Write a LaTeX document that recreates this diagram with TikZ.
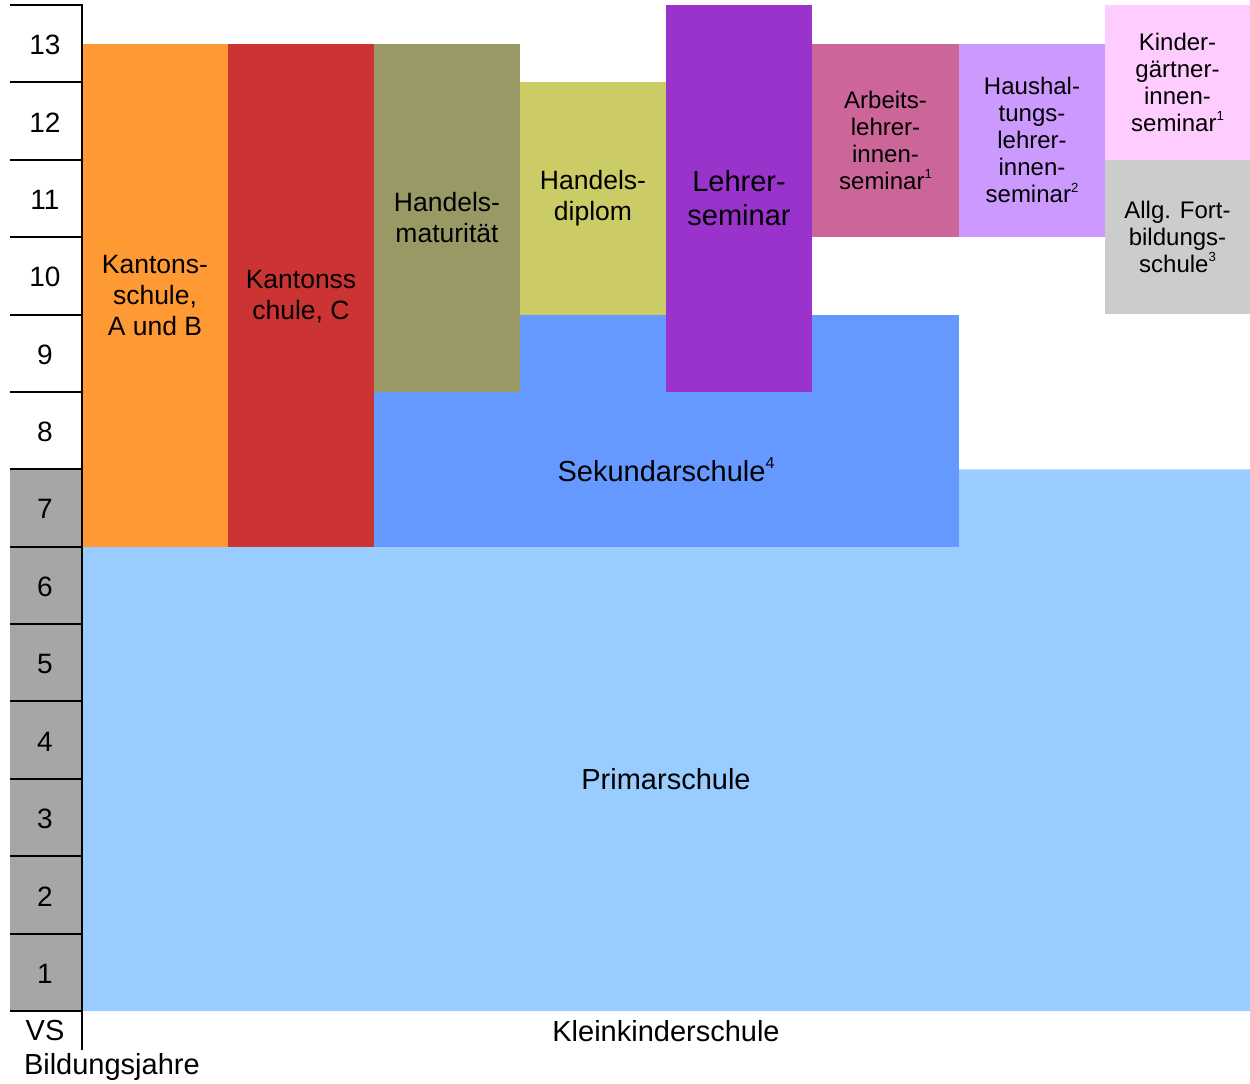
\documentclass[tikz,border=0pt]{standalone}
\usepackage{fontspec}
\setmainfont{Liberation Sans}
\definecolor{cOrange}{HTML}{FF9933}
\definecolor{cRed}{HTML}{CC3333}
\definecolor{cOlive}{HTML}{999966}
\definecolor{cYellow}{HTML}{CCCC66}
\definecolor{cPurple}{HTML}{9933CC}
\definecolor{cPink}{HTML}{CC6699}
\definecolor{cLavender}{HTML}{CC99FF}
\definecolor{cRose}{HTML}{FFCCFF}
\definecolor{cGrey}{HTML}{CCCCCC}
\definecolor{cBlue}{HTML}{6699FF}
\definecolor{cSky}{HTML}{99CCFF}
\definecolor{cAxis}{HTML}{A6A6A6}
\newcommand{\fsL}{\fontsize{29}{34}\selectfont}
\newcommand{\fsM}{\fontsize{26.5}{31}\selectfont}
\newcommand{\fsS}{\fontsize{24}{27}\selectfont}
\newcommand{\fsN}{\fontsize{28}{32}\selectfont}
% small raised footnote mark
\newcommand{\fnmark}[1]{\raisebox{0.85ex}{\scalebox{0.55}{#1}}}
\tikzset{
  block/.style={draw=none, inner sep=0pt, outer sep=0pt, align=center,
    minimum width=#1},
  block/.default=146pt,
  label/.style={inner sep=0pt, outer sep=0pt, align=center},
  axisline/.style={line width=2pt, black},
}
\begin{document}
\begin{tikzpicture}[x=1pt,y=-1pt]
\useasboundingbox (0,0) rectangle (1250,1084);
% row boundaries: 5 + k*77.38
% Primarschule (L-shaped)
\fill[cSky] (82,546.7) -- (959,546.7) -- (959,469.3) -- (1250,469.3)
  -- (1250,1011) -- (82,1011) -- cycle;
% Sekundarschule
\fill[cBlue] (374,314.5) rectangle (959,546.7);
% school types
\node[block, fill=cOrange, minimum height=503pt, font=\fsM] (kantAB) at (155,295.2) {Kantons-\\schule,\\A und B};
\node[block, fill=cRed, minimum height=503pt, font=\fsM] (kantC) at (301,295.2) {};
\node[label, font=\fsM] (kantCtext) at (301,297) {Kantonss\\chule, C};
\node[block, fill=cOlive, minimum height=348.2pt, font=\fsM] (hmat) at (447,217.8) {Handels-\\maturität};
\node[block, fill=cYellow, minimum height=232.1pt, font=\fsM] (hdip) at (593,198.5) {Handels-\\diplom};
\node[block, fill=cPurple, minimum height=386.9pt, font=\fsL] (lsem) at (739,198.5) {Lehrer-\\seminar};
\node[block=147pt, fill=cPink, minimum height=193.4pt, font=\fsS] (arb) at (885.5,140.4) {Arbeits-\\lehrer-\\innen-\\seminar\fnmark{1}};
\node[block, fill=cLavender, minimum height=193.4pt, font=\fsS] (haus) at (1032,140.4) {Haushal-\\tungs-\\lehrer-\\innen-\\seminar\fnmark{2}};
\node[block=145pt, fill=cRose, minimum height=154.8pt, font=\fsS] (kind) at (1177.5,82.4) {Kinder-\\gärtner-\\innen-\\seminar\fnmark{1}};
\node[block=145pt, fill=cGrey, minimum height=154.7pt, font=\fsS] (fort) at (1177.5,237.1) {Allg. Fort-\\bildungs-\\schule\fnmark{3}};
\node[label, font=\fsL] (sek) at (666,469.5) {Sekundarschule\fnmark{4}};
\node[label, font=\fsL] (prim) at (666,779) {Primarschule};
\node[label, font=\fsL] (klein) at (666,1031) {Kleinkinderschule};
% year axis
\fill[cAxis] (10,469.3) rectangle (82,1011);
\foreach \k in {0,...,13} {
  \draw[axisline] (10,5+\k*77.38) -- (82,5+\k*77.38);
}
\draw[axisline] (82,4) -- (82,1050);
\foreach \k in {1,...,13} {
  \node[label, font=\fsN] (year\k) at (45,1011-\k*77.38+40) {\k};
}
\node[label, font=\fsL] (vs) at (45,1031) {VS};
\node[label, font=\fsL, anchor=west] (bj) at (24,1067) {Bildungsjahre};
\end{tikzpicture}
\end{document}
